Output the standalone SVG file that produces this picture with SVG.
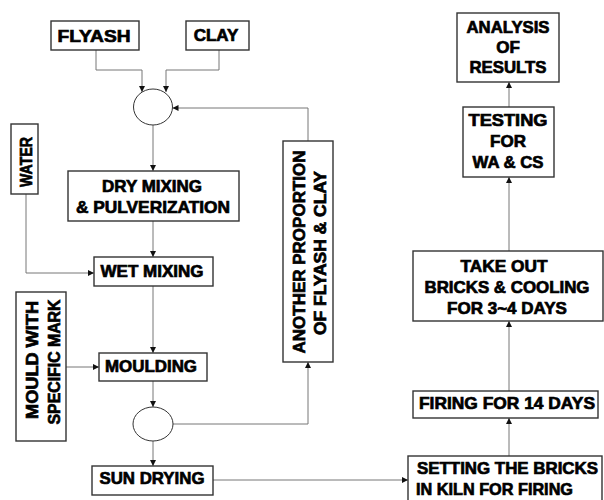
<svg xmlns="http://www.w3.org/2000/svg" width="604" height="500" viewBox="0 0 604 500">
<style>
.box{fill:#fff;stroke:#333;stroke-width:1.4}
.t{font-family:"Liberation Sans",Arial,sans-serif;font-weight:bold;font-size:17px;fill:#000;stroke:#000;stroke-width:0.7;text-anchor:middle}
.c{fill:none;stroke:#777;stroke-width:1}
</style>
<defs>
<marker id="ah" markerUnits="userSpaceOnUse" markerWidth="8" markerHeight="8" refX="6" refY="3" orient="auto">
<path d="M0,0 L6,3 L0,6 Z" fill="#111"/>
</marker>
</defs>
<rect width="604" height="500" fill="#fff"/>
<g id="connectors">
<path class="c" d="M96,50 V70 H142 V92" marker-end="url(#ah)"/>
<path class="c" d="M219,50 V70 H166 V92" marker-end="url(#ah)"/>
<path class="c" d="M153,125 V171" marker-end="url(#ah)"/>
<path class="c" d="M153,221 V257" marker-end="url(#ah)"/>
<path class="c" d="M26,194 V273 H94" marker-end="url(#ah)"/>
<path class="c" d="M153,286 V353" marker-end="url(#ah)"/>
<path class="c" d="M66,367 H99" marker-end="url(#ah)"/>
<path class="c" d="M153,381 V407" marker-end="url(#ah)"/>
<path class="c" d="M153,441 V466" marker-end="url(#ah)"/>
<path class="c" d="M173,424 H308 V362" marker-end="url(#ah)"/>
<path class="c" d="M308,141 V108 H172.5" marker-end="url(#ah)"/>
<path class="c" d="M213,480 H408" marker-end="url(#ah)"/>
<path class="c" d="M509,456 V418" marker-end="url(#ah)"/>
<path class="c" d="M509,391 V321" marker-end="url(#ah)"/>
<path class="c" d="M509,251 V177" marker-end="url(#ah)"/>
<path class="c" d="M509,107 V82" marker-end="url(#ah)"/>
</g>
<g id="flyash"><rect class="box" x="51" y="21" width="88" height="29"/><text class="t" x="94" y="42" font-size="18" textLength="73" lengthAdjust="spacingAndGlyphs">FLYASH</text></g>
<g id="clay"><rect class="box" x="186" y="21" width="63" height="29"/><text class="t" x="216" y="41">CLAY</text></g>
<g id="mix1"><ellipse cx="153" cy="107" rx="19.5" ry="18" fill="#fff" stroke="#333" stroke-width="1"/></g>
<g id="water"><rect class="box" x="11" y="124" width="27" height="70"/><text class="t" transform="translate(32,162) rotate(-90)" font-size="19" textLength="50" lengthAdjust="spacingAndGlyphs">WATER</text></g>
<g id="drymixing"><rect class="box" x="68" y="171" width="171" height="50"/><text class="t" x="152" y="192" textLength="100" lengthAdjust="spacingAndGlyphs">DRY MIXING</text><text class="t" x="153" y="213" textLength="154" lengthAdjust="spacingAndGlyphs">&amp; PULVERIZATION</text></g>
<g id="wetmixing"><rect class="box" x="94" y="257" width="119" height="29"/><text class="t" x="152" y="277" textLength="103" lengthAdjust="spacingAndGlyphs">WET MIXING</text></g>
<g id="mould"><rect class="box" x="16" y="292" width="50" height="149"/><text class="t" transform="translate(38,360) rotate(-90)" font-size="21" textLength="118" lengthAdjust="spacingAndGlyphs">MOULD WITH</text><text class="t" transform="translate(60,362) rotate(-90)" font-size="21" textLength="125" lengthAdjust="spacingAndGlyphs">SPECIFIC MARK</text></g>
<g id="moulding"><rect class="box" x="99" y="353" width="108" height="28"/><text class="t" x="151" y="372" textLength="92" lengthAdjust="spacingAndGlyphs">MOULDING</text></g>
<g id="mix2"><ellipse cx="153" cy="424" rx="20" ry="17" fill="#fff" stroke="#333" stroke-width="1"/></g>
<g id="sundrying"><rect class="box" x="92" y="466" width="121" height="29"/><text class="t" x="152" y="484" textLength="105" lengthAdjust="spacingAndGlyphs">SUN DRYING</text></g>
<g id="another"><rect class="box" x="283" y="141" width="50" height="221"/><text class="t" transform="translate(305,252) rotate(-90)" font-size="21" textLength="203" lengthAdjust="spacingAndGlyphs">ANOTHER PROPORTION</text><text class="t" transform="translate(326,253) rotate(-90)" font-size="21" textLength="164" lengthAdjust="spacingAndGlyphs">OF FLYASH &amp; CLAY</text></g>
<g id="setting"><rect class="box" x="408" y="456" width="194" height="48"/><text class="t" x="417" y="474" style="text-anchor:start" textLength="181" lengthAdjust="spacingAndGlyphs">SETTING THE BRICKS</text><text class="t" x="416" y="495" style="text-anchor:start" textLength="157" lengthAdjust="spacingAndGlyphs">IN KILN FOR FIRING</text></g>
<g id="firing"><rect class="box" x="413" y="391" width="185" height="27"/><text class="t" x="507" y="409" textLength="176" lengthAdjust="spacingAndGlyphs">FIRING FOR 14 DAYS</text></g>
<g id="takeout"><rect class="box" x="413" y="251" width="190" height="70"/><text class="t" x="504" y="272" textLength="87" lengthAdjust="spacingAndGlyphs">TAKE OUT</text><text class="t" x="507" y="293" textLength="165" lengthAdjust="spacingAndGlyphs">BRICKS &amp; COOLING</text><text class="t" x="507" y="314">FOR 3~4 DAYS</text></g>
<g id="testing"><rect class="box" x="463" y="107" width="91" height="70"/><text class="t" x="508" y="126" textLength="79" lengthAdjust="spacingAndGlyphs">TESTING</text><text class="t" x="508" y="147">FOR</text><text class="t" x="508" y="168" textLength="71" lengthAdjust="spacingAndGlyphs">WA &amp; CS</text></g>
<g id="analysis"><rect class="box" x="457" y="13" width="102" height="69"/><text class="t" x="508" y="33" textLength="83" lengthAdjust="spacingAndGlyphs">ANALYSIS</text><text class="t" x="508" y="53">OF</text><text class="t" x="508" y="73" textLength="77" lengthAdjust="spacingAndGlyphs">RESULTS</text></g>
</svg>
